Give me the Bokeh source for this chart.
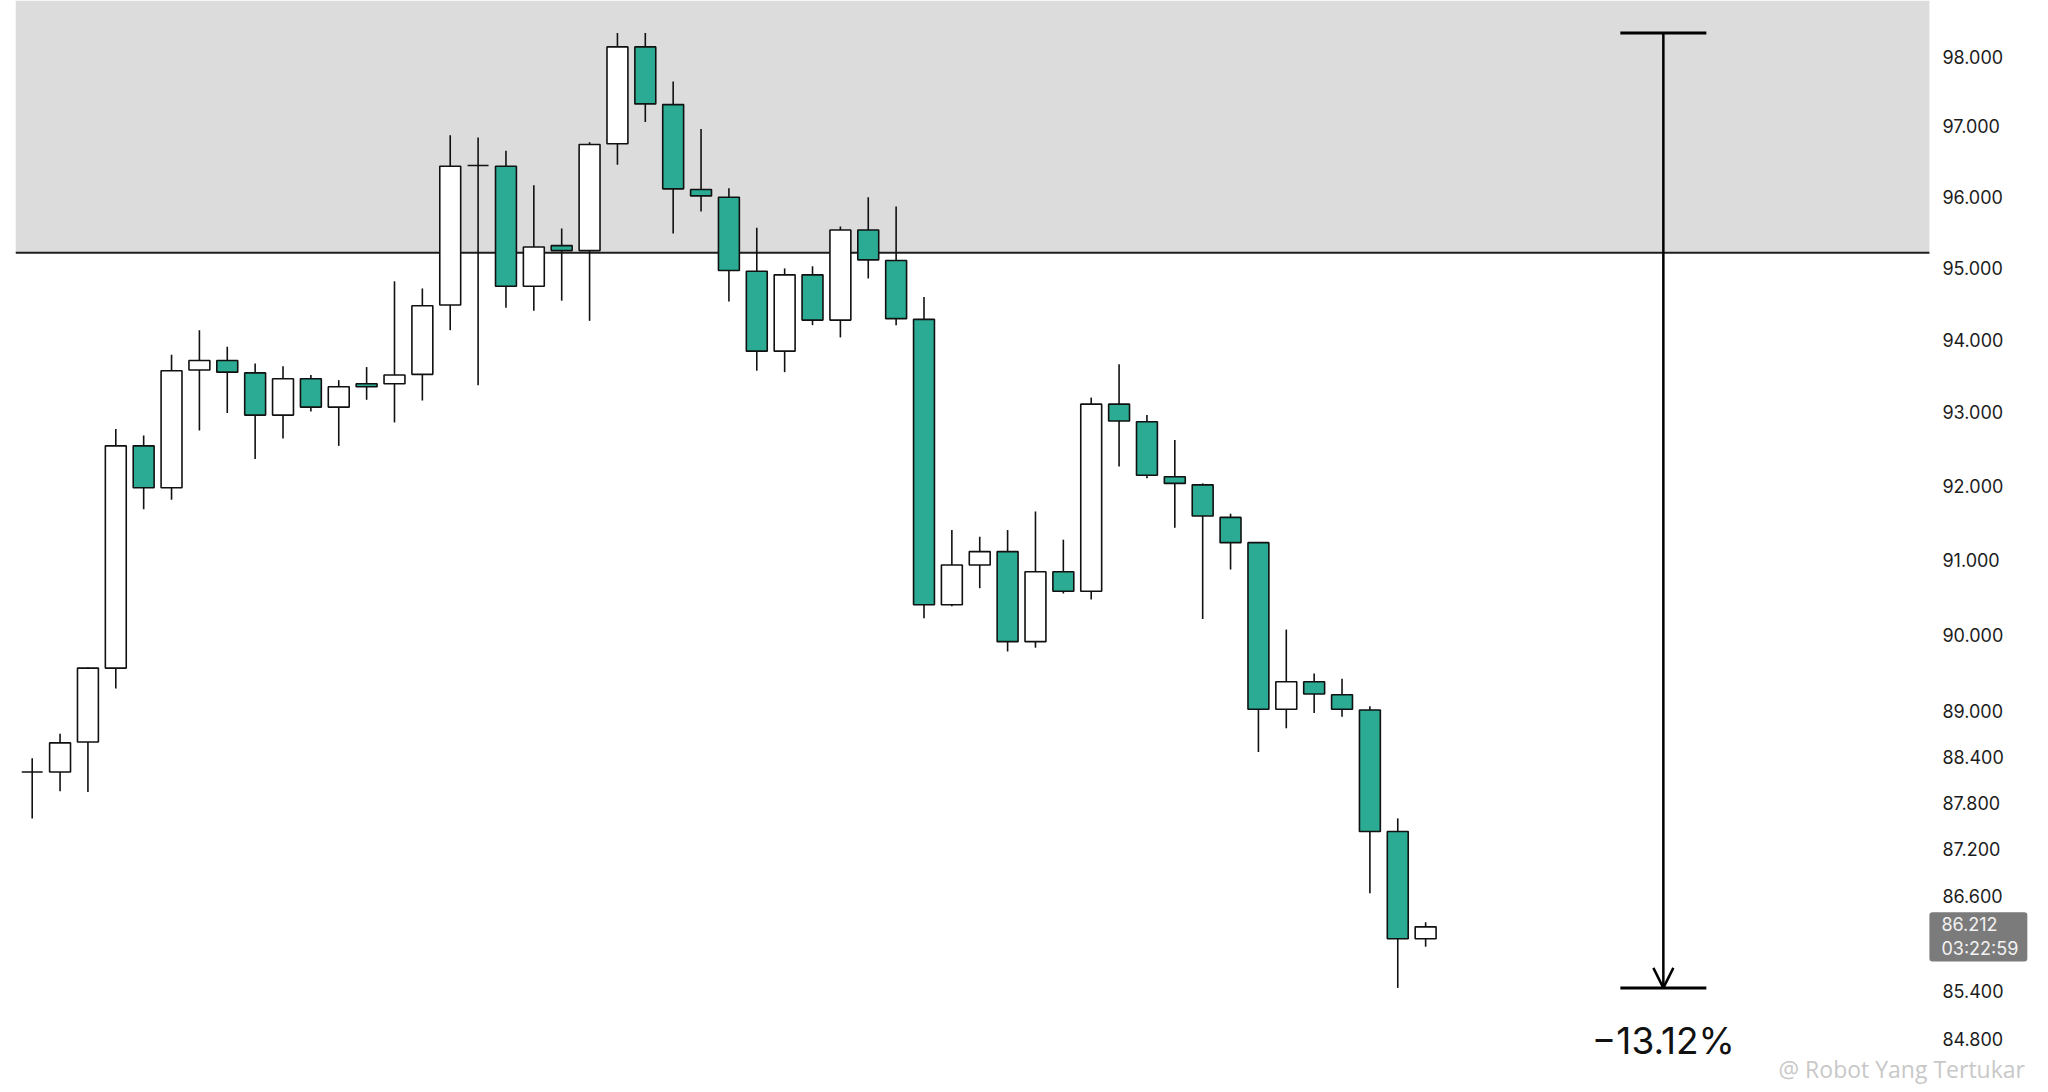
from bokeh.plotting import figure
from bokeh.models import (ColumnDataSource, Range1d, BoxAnnotation, Label, Arrow, OpenHead)
from bokeh.core.properties import value
from bokeh.embed import file_html
from bokeh.resources import INLINE

# ---- data ----
opens = [88.20, 88.20, 88.59, 89.56, 92.54, 91.97, 93.58, 93.71, 93.54, 92.96,
         93.46, 93.07, 93.39, 93.39, 93.52, 94.48, 96.44, 96.43, 94.74, 95.31,
         95.24, 96.75, 98.14, 97.31, 96.10, 95.99, 94.95, 93.84, 94.90, 94.27,
         95.53, 95.10, 94.28, 90.40, 90.93, 91.11, 89.91, 90.84, 90.58, 93.11,
         92.87, 92.12, 92.01, 91.57, 91.23, 89.02, 89.38, 89.21, 89.01, 87.43,
         86.06]
highs = [88.38, 88.70, 89.57, 92.77, 92.68, 93.79, 94.13, 93.90, 93.67, 93.63,
         93.51, 93.44, 93.62, 94.81, 94.71, 96.87, 96.84, 96.65, 96.16, 95.55,
         96.77, 98.34, 98.34, 97.64, 96.96, 96.12, 95.56, 94.99, 95.02, 95.58,
         95.99, 95.86, 94.59, 91.40, 91.31, 91.40, 91.65, 91.27, 93.20, 93.66,
         92.96, 92.62, 92.03, 91.62, 91.24, 90.07, 89.49, 89.42, 89.06, 87.60,
         86.27]
lows = [87.60, 87.95, 87.94, 89.29, 91.68, 91.81, 92.75, 92.99, 92.36, 92.64,
        93.01, 92.54, 93.17, 92.86, 93.16, 94.13, 93.37, 94.44, 94.40, 94.54,
        94.26, 96.45, 97.06, 95.48, 95.79, 94.53, 93.57, 93.55, 94.20, 94.03,
        94.85, 94.20, 90.22, 90.38, 90.62, 89.78, 89.83, 90.55, 90.47, 92.26,
        92.10, 91.43, 90.21, 90.87, 88.46, 88.77, 88.97, 88.92, 86.64, 85.44,
        85.96]
closes = [88.20, 88.58, 89.56, 92.54, 91.97, 93.57, 93.71, 93.55, 92.96, 93.46,
          93.07, 93.35, 93.35, 93.51, 94.47, 96.43, 96.44, 94.74, 95.29, 95.24,
          96.74, 98.14, 97.32, 96.11, 96.01, 94.96, 93.84, 94.90, 94.27, 95.53,
          95.11, 94.29, 90.40, 90.93, 91.11, 89.91, 90.84, 90.58, 93.11, 92.88,
          92.14, 92.03, 91.59, 91.23, 89.02, 89.38, 89.22, 89.02, 87.43, 86.06,
          86.212]

price_ticks = [98.0, 97.0, 96.0, 95.0, 94.0, 93.0, 92.0, 91.0, 90.0, 89.0,
               88.4, 87.8, 87.2, 86.6, 85.4, 84.8]
resistance_level = 95.21
last_price = 86.212
countdown = "03:22:59"
measure_x = 58.53
measure_top = 98.34
measure_bottom = 85.44
watermark = "@ Robot Yang Tertukar"

# ---- layout constants ----
X_START, X_END = -0.599, 72.35      # candle-index range across the frame
PANE_RIGHT = 68.077                 # where the price pane ends and the scale begins
Y_LOW, Y_HIGH = 84.134, 98.813

# ---- derived ----
change_pct = (measure_bottom / measure_top - 1.0) * 100.0
change_text = f"{change_pct:.2f}%".replace("-", "\u2212")

UP_FILL = "#ffffff"
DOWN_FILL = "#2bab93"
INK = "#111111"

xs = list(range(len(opens)))
src = ColumnDataSource(dict(
    x=xs, open=opens, high=highs, low=lows, close=closes,
    top=[max(o, c) for o, c in zip(opens, closes)],
    bottom=[min(o, c) for o, c in zip(opens, closes)],
    color=[UP_FILL if c >= o else DOWN_FILL for o, c in zip(opens, closes)],
))
tick_src = ColumnDataSource(dict(y=price_ticks, label=[f"{t:.3f}" for t in price_ticks]))

p = figure(width=2048, height=1092, output_backend="svg", toolbar_location=None,
           y_axis_type="log", y_axis_location=None, x_axis_location=None,
           x_range=Range1d(X_START, X_END), y_range=Range1d(Y_LOW, Y_HIGH),
           min_border_left=15, min_border_right=0, min_border_top=0, min_border_bottom=0)
p.background_fill_color = "white"
p.border_fill_color = "white"
p.outline_line_color = None
p.xgrid.visible = False
p.ygrid.visible = False

# resistance zone (price pane only)
p.add_layout(BoxAnnotation(bottom=resistance_level, right=PANE_RIGHT, fill_color="#dcdcdc",
                           fill_alpha=1.0, line_color=None, level="underlay"))
p.segment(x0=[X_START], y0=[resistance_level], x1=[PANE_RIGHT], y1=[resistance_level],
          line_color="#1e1e1e", line_width=2)

# price scale labels
p.text(x=PANE_RIGHT, y="y", text="label", source=tick_src, x_offset=13,
       text_align="left", text_baseline="middle", text_font=value("Inter"),
       text_font_size="18px", text_color="#1c1c1c")

# candles
p.segment(x0="x", y0="low", x1="x", y1="high", source=src, line_color=INK, line_width=1.6)
p.vbar(x="x", width=0.75, top="top", bottom="bottom", source=src,
       fill_color="color", line_color=INK, line_width=1.6)

# measurement tool
bar_half = 1.543
p.segment(x0=[measure_x - bar_half, measure_x - bar_half],
          y0=[measure_top, measure_bottom],
          x1=[measure_x + bar_half, measure_x + bar_half],
          y1=[measure_top, measure_bottom],
          line_color="#000000", line_width=3)
p.add_layout(Arrow(end=OpenHead(size=20, line_width=2.5, line_color="#000000"),
                   x_start=measure_x, y_start=measure_top,
                   x_end=measure_x, y_end=measure_bottom,
                   line_color="#000000", line_width=2.5))
p.add_layout(Label(x=measure_x, y=measure_bottom, y_offset=-53, text=change_text,
                   text_align="center", text_baseline="middle",
                   text_font="Inter", text_font_size="37px", text_color="#111111"))

# last price box
price_label = Label(x=PANE_RIGHT, y=last_price, x_offset=0, y_offset=-10,
                    text=f"{last_price:.3f}\n{countdown}",
                    text_align="left", text_baseline="middle",
                    text_font="Inter", text_font_size="18px", text_color="#f2f2f2",
                    text_line_height=1.15,
                    background_fill_color="#7b7b7b", background_fill_alpha=1.0)
try:
    price_label.padding = dict(left=12, right=9, top=2, bottom=2)
except Exception:
    price_label.padding = 4
try:
    price_label.border_radius = 3
except Exception:
    pass
p.add_layout(price_label)

# watermark
p.add_layout(Label(x=1763, y=24, x_units="screen", y_units="screen", text=watermark,
                   text_align="left", text_baseline="middle",
                   text_font="Open Sans", text_font_size="23px", text_color="#c8c8c8"))

open("out.html", "w").write(file_html(p, INLINE))
